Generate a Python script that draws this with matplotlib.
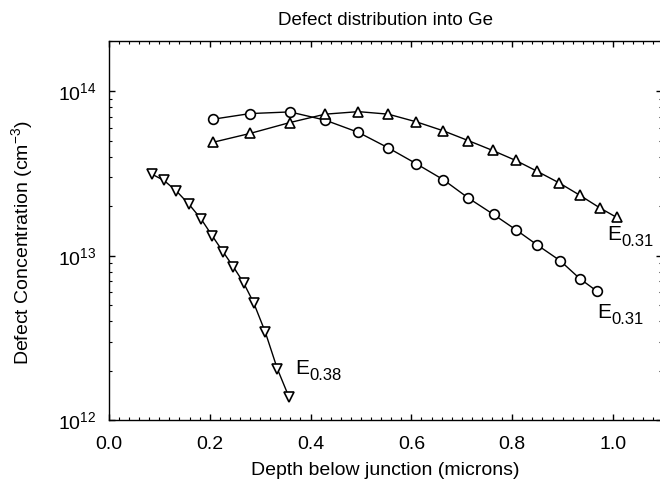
import matplotlib
matplotlib.use("Agg")
from matplotlib import pyplot as plt
from matplotlib.ticker import MultipleLocator, LogLocator, FormatStrFormatter

plt.rcParams["font.family"] = ["Liberation Sans", "DejaVu Sans"]
plt.rcParams["mathtext.fontset"] = "custom"
plt.rcParams["mathtext.rm"] = "Liberation Sans"
plt.rcParams["mathtext.it"] = "Liberation Sans"

# E0.38 (down triangles)
x_e38 = [0.086, 0.109, 0.134, 0.159, 0.183, 0.205, 0.227, 0.247, 0.267, 0.287, 0.310, 0.334, 0.357]
y_e38 = [3.12e13, 2.87e13, 2.47e13, 2.05e13, 1.67e13, 1.32e13, 1.05e13, 8.55e12, 6.86e12,
         5.19e12, 3.45e12, 2.06e12, 1.39e12]

# E0.31 (circles)
x_circ = [0.207, 0.280, 0.359, 0.429, 0.495, 0.554, 0.609, 0.663, 0.713, 0.763, 0.807,
          0.850, 0.895, 0.934, 0.968]
y_circ = [6.75e13, 7.30e13, 7.47e13, 6.66e13, 5.61e13, 4.52e13, 3.63e13, 2.90e13, 2.24e13,
          1.78e13, 1.44e13, 1.16e13, 9.33e12, 7.26e12, 6.09e12]

# E0.31 (up triangles)
x_tri = [0.207, 0.280, 0.359, 0.429, 0.495, 0.554, 0.610, 0.663, 0.713, 0.761, 0.807,
         0.850, 0.893, 0.934, 0.974, 1.007]
y_tri = [4.89e13, 5.53e13, 6.44e13, 7.24e13, 7.50e13, 7.24e13, 6.50e13, 5.74e13, 5.00e13,
         4.36e13, 3.79e13, 3.25e13, 2.77e13, 2.33e13, 1.95e13, 1.71e13]

# etiquetas de las curvas
etiquetas = ["0.38", "0.31", "0.31"]
x_etq = [0.369, 0.988, 0.968]
y_etq = [2.08e12, 1.34e13, 4.54e12]

fig = plt.figure(figsize=(6.6, 4.94), dpi=100)
ax = fig.add_axes([0.165, 0.149, 0.838, 0.767])

estilo = dict(color="black", lw=1.0, mfc="white", mec="black", mew=1.2)
ax.plot(x_e38, y_e38, marker="v", ms=7.5, **estilo)
ax.plot(x_circ, y_circ, marker="o", ms=7, **estilo)
ax.plot(x_tri, y_tri, marker="^", ms=7.5, **estilo)

for sub, xe, ye in zip(etiquetas, x_etq, y_etq):
    t = ax.text(xe, ye, "E", fontsize=15, ha="left", va="center")
    ax.annotate(sub, xy=(1, 0), xycoords=t, xytext=(0, -1.5), textcoords="offset points",
                fontsize=12, ha="left", va="baseline")

ax.set_yscale("log")
ax.set_xlim(0, 1.097)
ax.set_ylim(1e12, 2e14)
ax.xaxis.set_major_locator(MultipleLocator(0.2))
ax.xaxis.set_minor_locator(MultipleLocator(0.02))
ax.yaxis.set_major_locator(LogLocator(base=10))
ax.yaxis.set_minor_locator(LogLocator(base=10, subs=range(2, 10)))
ax.xaxis.set_major_formatter(FormatStrFormatter("%.1f"))

ax.tick_params(which="both", direction="in", top=True, right=True, labelsize=14, pad=9)
ax.tick_params(axis="x", which="major", pad=11)
ax.tick_params(which="major", length=4.5, width=1)
ax.tick_params(which="minor", length=2.3, width=0.8)
for s in ax.spines.values():
    s.set_linewidth(1.0)

ax.set_xlabel("Depth below junction (microns)", fontsize=14, labelpad=7)
ax.set_ylabel("Defect Concentration (cm$^{-3}$)", fontsize=14)
ax.yaxis.set_label_coords(-0.134, 0.47)
ax.set_title("Defect distribution into Ge", fontsize=13.5, pad=12)

fig.savefig("out.png", dpi=100)
